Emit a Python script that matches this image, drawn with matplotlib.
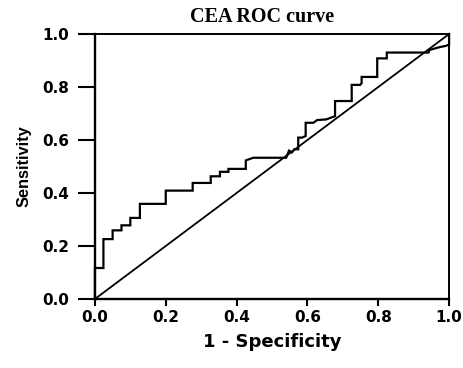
import numpy as np
import matplotlib.pyplot as plt

# ROC corner points (1 - specificity, sensitivity)
fpr = [0.0, 0.0, 0.024, 0.024, 0.05, 0.05, 0.075, 0.075, 0.10, 0.10,
       0.127, 0.127, 0.20, 0.20, 0.276, 0.276, 0.327, 0.327, 0.353, 0.353,
       0.377, 0.377, 0.426, 0.426, 0.447, 0.54, 0.548, 0.556, 0.563, 0.574,
       0.574, 0.585, 0.595, 0.595, 0.617, 0.627, 0.654, 0.678, 0.678, 0.725,
       0.725, 0.749, 0.753, 0.753, 0.797, 0.797, 0.824, 0.824, 0.942, 0.945,
       0.975, 0.99, 1.0, 1.0]
tpr = [0.0, 0.117, 0.117, 0.226, 0.226, 0.259, 0.259, 0.278, 0.278, 0.306,
       0.306, 0.359, 0.359, 0.409, 0.409, 0.438, 0.438, 0.463, 0.463, 0.48,
       0.48, 0.491, 0.491, 0.523, 0.533, 0.533, 0.56, 0.553, 0.565, 0.565,
       0.609, 0.609, 0.615, 0.665, 0.665, 0.675, 0.678, 0.69, 0.747, 0.747,
       0.808, 0.808, 0.815, 0.838, 0.838, 0.908, 0.908, 0.93, 0.93, 0.94,
       0.951, 0.955, 0.96, 1.0]
ref_line = [0.0, 1.0]
ticks = [0.0, 0.2, 0.4, 0.6, 0.8, 1.0]
tick_labels = ['0.0', '0.2', '0.4', '0.6', '0.8', '1.0']

fig = plt.figure(figsize=(4.63, 3.68), dpi=100)
ax = fig.add_axes([0.205, 0.1875, 0.765, 0.7201])

ax.plot(fpr, tpr, color='black', lw=1.6, solid_joinstyle='miter', clip_on=False)
ax.plot(ref_line, ref_line, color='black', lw=1.3, clip_on=False)

ax.set_xlim(0, 1)
ax.set_ylim(0, 1)
ax.set_xticks(ticks)
ax.set_yticks(ticks)
ax.set_xticklabels(tick_labels, fontfamily='DejaVu Sans', fontweight='bold', fontsize=11)
ax.set_yticklabels(tick_labels, fontfamily='DejaVu Sans', fontweight='bold', fontsize=11)
ax.tick_params(axis='x', length=5, width=1.5, pad=3, direction='out')
ax.tick_params(axis='y', length=12.5, width=1.5, pad=6, direction='out')

for side in ['left', 'bottom']:
    ax.spines[side].set_linewidth(1.7)
for side in ['top', 'right']:
    ax.spines[side].set_linewidth(1.4)

ax.set_xlabel('1 - Specificity', fontfamily='DejaVu Sans', fontweight='bold', fontsize=13, labelpad=6)
ax.set_ylabel('Sensitivity', fontfamily='Liberation Sans', fontweight='bold', fontsize=11.8, labelpad=8)
fig.text(0.565, 0.954, 'CEA ROC curve', ha='center', va='center',
         fontfamily='Liberation Serif', fontweight='bold', fontsize=14.5)

fig.savefig('out.png', dpi=100, facecolor='white')
